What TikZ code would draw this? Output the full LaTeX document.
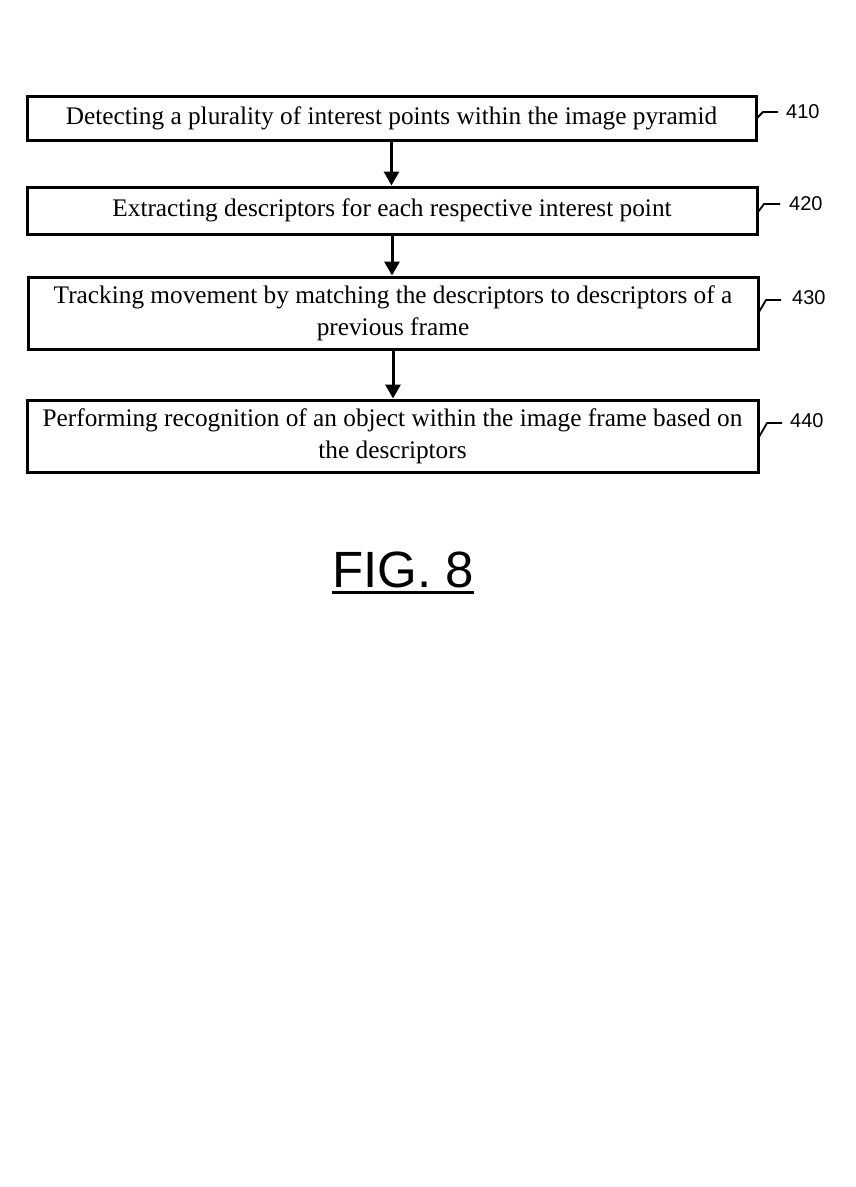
\documentclass[tikz,border=0pt]{standalone}
\usepackage{fontspec}
\setmainfont{Liberation Serif}
\newfontfamily\labelfont{Liberation Sans}
\usetikzlibrary{arrows.meta}
\begin{document}
\begin{tikzpicture}[x=1pt,y=-1pt,
  stepbox/.style={draw,line width=3pt,inner sep=0pt,align=center,font=\fontsize{25.3}{32}\selectfont},
  flow/.style={line width=3pt,-{Triangle[length=14pt,width=15pt]}},
  leader/.style={line width=1.8pt},
  reflabel/.style={font=\labelfont\fontsize{20}{22}\selectfont,anchor=west,inner sep=0pt}]
\useasboundingbox[fill=white] (0,0) rectangle (856,1187);
\node[stepbox,minimum width=729pt,minimum height=44pt] (b1) at (391.5,118) {Detecting a plurality of interest points within the image pyramid};
\node[stepbox,minimum width=730pt,minimum height=47pt] (b2) at (392,210.5) {Extracting descriptors for each respective interest point};
\node[stepbox,minimum width=730pt,minimum height=72pt] (b3) at (393,313) {Tracking movement by matching the descriptors to descriptors of a\\previous frame};
\node[stepbox,minimum width=731pt,minimum height=72pt] (b4) at (392.5,436) {Performing recognition of an object within the image frame based on\\the descriptors};
\draw[flow] (b1.south) -- (b1.south |- b2.north);
\draw[flow] (b2.south) -- (b2.south |- b3.north);
\draw[flow] (b3.south) -- (b3.south |- b4.north);
% reference labels
\node[reflabel] (l1) at (786,112) {410};
\node[reflabel] (l2) at (789,204) {420};
\node[reflabel] (l3) at (792,298) {430};
\node[reflabel] (l4) at (790,421) {440};
\coordinate (c1a) at (757,118); \coordinate (c1b) at (763,112);
\coordinate (c2a) at (758,212); \coordinate (c2b) at (764,204);
\coordinate (c3a) at (759,312); \coordinate (c3b) at (766,300);
\coordinate (c4a) at (759,437); \coordinate (c4b) at (767,423);
\draw[leader] (c1a) -- (c1b) -- ([xshift=-8pt]l1.west);
\draw[leader] (c2a) -- (c2b) -- ([xshift=-9pt]l2.west);
\draw[leader] (c3a) -- (c3b) -- ([xshift=-11pt]l3.west|-c3b);
\draw[leader] (c4a) -- (c4b) -- ([xshift=-8pt]l4.west|-c4b);
\node[font=\labelfont\fontsize{51}{60}\selectfont,inner sep=0pt,anchor=base] (fig) at (403,587) {FIG. 8};
\draw[line width=3pt] ([yshift=-5pt]fig.base west) -- ([yshift=-5pt]fig.base east);
\end{tikzpicture}
\end{document}
